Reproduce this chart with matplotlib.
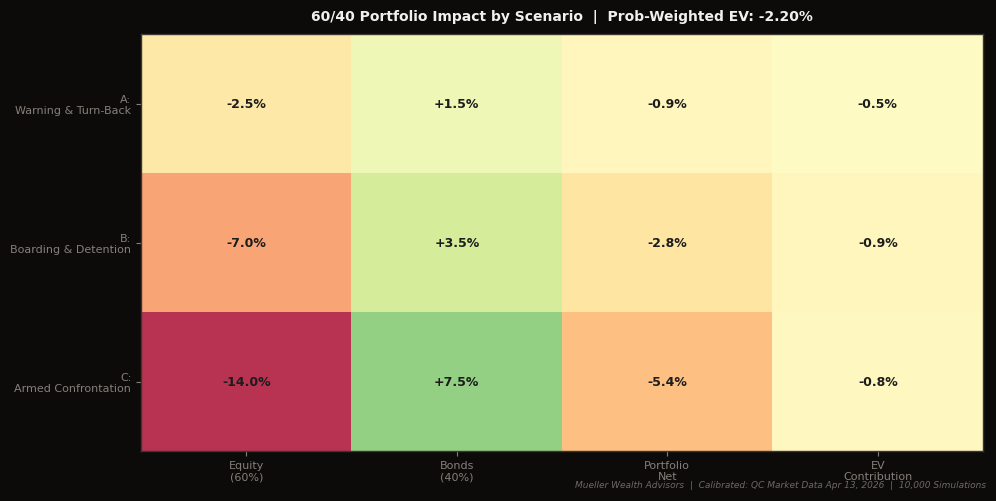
import numpy as np
import matplotlib
matplotlib.use("Agg")
import matplotlib.pyplot as plt

scenarios = ["A:\nWarning & Turn-Back", "B:\nBoarding & Detention", "C:\nArmed Confrontation"]
columns = ["Equity\n(60%)", "Bonds\n(40%)", "Portfolio\nNet", "EV\nContribution"]
equity = [-2.5, -7.0, -14.0]
bonds = [1.5, 3.5, 7.5]
portfolio_net = [-0.9, -2.8, -5.4]
ev_contrib = [-0.5, -0.9, -0.8]
prob_weighted_ev = -2.20

data = np.array([equity, bonds, portfolio_net, ev_contrib]).T
vmax = np.abs(data).max()

bg = "#0c0b0a"
label_col = "#857f78"

fig = plt.figure(figsize=(9.96, 5.01), dpi=100, facecolor=bg)
ax = fig.add_axes([141/996, 1-451/501, (983-141)/996, (451-34)/501])
ax.set_facecolor("white")
ax.imshow(data, cmap="RdYlGn", vmin=-vmax, vmax=vmax, alpha=0.8, aspect="auto")

for i in range(data.shape[0]):
    for j in range(data.shape[1]):
        ax.text(j, i + 0.005, f"{data[i, j]:+.1f}%", ha="center", va="center",
                fontsize=9, fontweight="bold", color="#1c1c1c")

ax.set_xticks(range(len(columns)))
ax.set_xticklabels(columns, fontsize=8, color=label_col)
ax.set_yticks(range(len(scenarios)))
ax.set_yticklabels(scenarios, fontsize=8, color=label_col)
ax.tick_params(colors=label_col, length=3.5, width=0.8)
for s in ax.spines.values():
    s.set_color("#3a3632")
    s.set_linewidth(1.0)

ax.set_title(f"60/40 Portfolio Impact by Scenario  |  Prob-Weighted EV: {prob_weighted_ev:.2f}%",
             fontsize=10, fontweight="bold", color="#f0f0f0", pad=9)

fig.text(986/996, 1-486/501, "Mueller Wealth Advisors  |  Calibrated: QC Market Data Apr 13, 2026  |  10,000 Simulations",
         ha="right", va="center", fontsize=6.5, style="italic", color="#6e6862")

fig.savefig("out.png", dpi=100, facecolor=bg)
